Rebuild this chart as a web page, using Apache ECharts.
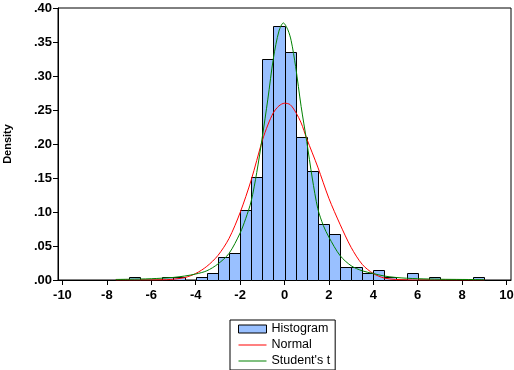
<!DOCTYPE html>
<html>
<head>
<meta charset="utf-8">
<script src="https://cdn.jsdelivr.net/npm/echarts@6/dist/echarts.min.js"></script>
<style>
html,body{margin:0;padding:0;background:#fff;}
#chart{width:514px;height:370px;}
</style>
</head>
<body>
<div id="chart"></div>
<script>
// ---- data ----
var binStart = [-7.0, -5.5, -5.0, -4.0, -3.5, -3.0, -2.5, -2.0, -1.5, -1.0, -0.5, 0.0, 0.5, 1.0, 1.5, 2.0, 2.5, 3.0, 3.5, 4.0, 4.5, 5.5, 6.5, 8.5];
var binDensity = [0.0045, 0.0045, 0.0045, 0.0045, 0.0098, 0.0334, 0.039, 0.1026, 0.151, 0.325, 0.374, 0.335, 0.21, 0.16, 0.082, 0.067, 0.019, 0.019, 0.0098, 0.0147, 0.0045, 0.0098, 0.0045, 0.0045];
var binWidth = 0.5;

var normalX = [-7.6, -6.0, -5.3, -5.0, -4.5, -4.0, -3.5, -3.0, -2.5, -2.0, -1.5, -1.0, -0.75, -0.5, -0.25, 0.0, 0.25, 0.5, 0.75, 1.0, 1.5, 2.0, 2.5, 3.0, 3.5, 4.0, 4.5, 5.0, 5.5, 6.0, 9.0];
var normalY = [0.0, 0.0, 0.0005, 0.0012, 0.0035, 0.0095, 0.020, 0.036, 0.061, 0.099, 0.147, 0.205, 0.228, 0.246, 0.256, 0.260, 0.258, 0.247, 0.231, 0.208, 0.166, 0.120, 0.082, 0.048, 0.023, 0.0095, 0.0028, 0.0008, 0.0002, 0.0, 0.0];

var studentX = [-7.6, -7.0, -6.5, -6.0, -5.5, -5.0, -4.5, -4.0, -3.5, -3.0, -2.5, -2.0, -1.75, -1.5, -1.25, -1.0, -0.75, -0.5, -0.25, -0.05, 0.15, 0.3, 0.5, 0.75, 1.0, 1.25, 1.5, 1.75, 2.0, 2.5, 3.0, 3.5, 4.0, 4.5, 5.0, 5.5, 6.0, 7.0, 8.0, 9.0];
var studentY = [0.0008, 0.0011, 0.0014, 0.0019, 0.0027, 0.0038, 0.0058, 0.0088, 0.0135, 0.0235, 0.039, 0.069, 0.090, 0.116, 0.158, 0.210, 0.266, 0.326, 0.366, 0.378, 0.368, 0.352, 0.314, 0.255, 0.204, 0.150, 0.105, 0.080, 0.063, 0.036, 0.021, 0.0135, 0.0095, 0.0058, 0.0038, 0.0026, 0.0019, 0.0011, 0.0008, 0.0005];

var xTicks = [-10, -8, -6, -4, -2, 0, 2, 4, 6, 8, 10];
var seriesNames = ['Histogram', 'Normal', "Student's t"];

// ---- build ----
var histData = binStart.map(function (s, i) { return [s, s + binWidth, binDensity[i]]; });
var normalData = normalX.map(function (x, i) { return [x, normalY[i]]; });
var studentData = studentX.map(function (x, i) { return [x, studentY[i]]; });

var barColor = '#99c0ff';
var lineIcon = 'path://M0,0H28V1H0Z';
var chart = echarts.init(document.getElementById('chart'), null, { renderer: 'canvas' });
var labelFont = { fontFamily: 'Liberation Sans', fontWeight: 'bold', fontSize: 13, color: '#000' };

chart.setOption({
  animation: false,
  backgroundColor: '#fff',
  grid: { left: 58, right: 3, top: 8, bottom: 90, show: true, borderColor: '#000', borderWidth: 1, backgroundColor: 'transparent', outerBoundsMode: 'none', containLabel: false },
  legend: {
    orient: 'vertical',
    left: 230, top: 320,
    padding: [2, 5, 2, 8],
    itemGap: 2,
    itemWidth: 28, itemHeight: 8,
    symbolKeepAspect: true,
    borderColor: '#000', borderWidth: 1,
    textStyle: { fontFamily: 'Liberation Sans', fontSize: 12.5, color: '#000', lineHeight: 14 },
    data: [
      { name: seriesNames[0], icon: 'rect', itemStyle: { color: barColor, borderColor: '#000', borderWidth: 1 } },
      { name: seriesNames[1], icon: lineIcon, itemStyle: { color: '#ff0000', borderWidth: 0 } },
      { name: seriesNames[2], icon: lineIcon, itemStyle: { color: '#008000', borderWidth: 0 } }
    ]
  },
  xAxis: {
    type: 'value', min: -10.2, max: 10.2,
    axisLine: { show: true, onZero: false, lineStyle: { color: '#000', width: 1 } },
    axisTick: { show: true, inside: false, length: 5, lineStyle: { color: '#000' }, customValues: xTicks },
    axisLabel: Object.assign({ margin: 9, customValues: xTicks, formatter: function (v) { return String(v); } }, labelFont),
    splitLine: { show: false }
  },
  yAxis: {
    type: 'value', min: 0, max: 0.4, interval: 0.05,
    name: 'Density', nameLocation: 'middle', nameGap: 45,
    nameTextStyle: { fontFamily: 'Liberation Sans', fontWeight: 'bold', fontSize: 11, color: '#000' },
    axisLine: { show: true, onZero: false, lineStyle: { color: '#000', width: 1 } },
    axisTick: { show: true, inside: false, length: 5, lineStyle: { color: '#000' } },
    axisLabel: Object.assign({ margin: 6, formatter: function (v) { return v.toFixed(2).replace(/^0/, ''); } }, labelFont),
    splitLine: { show: false }
  },
  series: [
    {
      name: seriesNames[0], type: 'custom',
      itemStyle: { color: barColor, borderColor: '#000', borderWidth: 1 },
      renderItem: function (params, api) {
        var p0 = api.coord([api.value(0), api.value(2)]);
        var p1 = api.coord([api.value(1), 0]);
        return {
          type: 'rect',
          shape: { x: Math.round(p0[0]) + 0.5, y: Math.round(p0[1]) + 0.5, width: Math.round(p1[0]) - Math.round(p0[0]), height: Math.round(p1[1]) - Math.round(p0[1]) },
          style: { fill: barColor, stroke: '#000', lineWidth: 1 }
        };
      },
      encode: { x: [0, 1], y: 2 },
      data: histData, z: 2
    },
    {
      name: seriesNames[1], type: 'line', data: normalData, smooth: 0.3,
      showSymbol: false, symbol: 'none',
      lineStyle: { color: '#ff0000', width: 1 }, itemStyle: { color: '#ff0000' }, z: 3
    },
    {
      name: seriesNames[2], type: 'line', data: studentData, smooth: 0.3,
      showSymbol: false, symbol: 'none',
      lineStyle: { color: '#008000', width: 1 }, itemStyle: { color: '#008000' }, z: 4
    }
  ]
});
</script>
</body>
</html>
